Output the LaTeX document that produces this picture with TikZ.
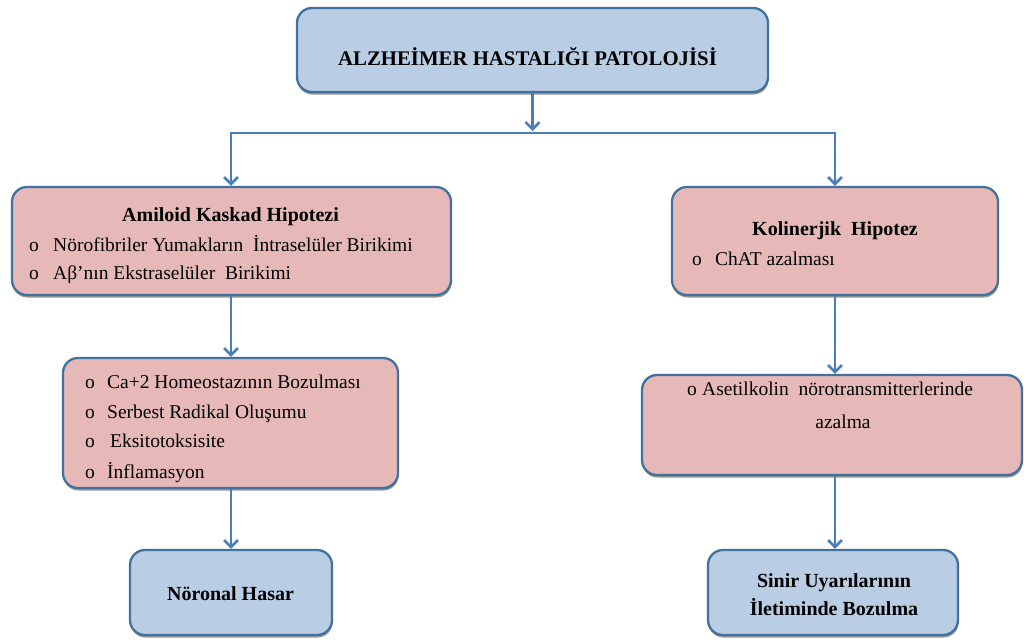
\documentclass[tikz,border=0pt]{standalone}
\usepackage{fontspec}
\setmainfont{Liberation Serif}
\usetikzlibrary{arrows.meta,shadows}
\definecolor{bluefill}{HTML}{B9CDE5}
\definecolor{pinkfill}{HTML}{E6B9B8}
\definecolor{edgec}{HTML}{41719C}
\definecolor{arrowc}{HTML}{4A7EBB}
\newcommand\bulmk[1]{\makebox[#1][l]{o}}
\begin{document}
\begin{tikzpicture}[x=1pt,y=-1pt,
  box/.style={draw=edgec, line width=2.3pt, rounded corners=15pt, inner sep=0pt,
    drop shadow={shadow xshift=0.5pt, shadow yshift=-2.5pt, fill=black!70, opacity=0.6}},
  bluebox/.style={box, fill=bluefill},
  pinkbox/.style={box, fill=pinkfill},
  txt/.style={font=\fontsize{19.5}{23}\selectfont, inner sep=0pt, text=black},
  btxt/.style={txt, font=\fontsize{20}{23}\selectfont\bfseries},
  arr/.style={draw=arrowc, line width=2.6pt, -{Straight Barb[length=7pt,width=14pt,line width=2.6pt]}},
  ln/.style={draw=arrowc, line width=2.6pt, line cap=rect}]
\useasboundingbox (0,0) rectangle (1024,641);

% boxes
\node[bluebox, minimum width=471pt, minimum height=84pt] (top) at (532.5,50) {};
\node[pinkbox, minimum width=439pt, minimum height=108pt] (amiloid) at (231.5,241) {};
\node[pinkbox, minimum width=326pt, minimum height=108pt] (kolin) at (835,241) {};
\node[pinkbox, minimum width=335pt, minimum height=130pt] (ca) at (230.5,423) {};
\node[pinkbox, minimum width=380pt, minimum height=100pt] (aset) at (832,425) {};
\node[bluebox, minimum width=202pt, minimum height=85pt] (noron) at (231,592.5) {};
\node[bluebox, minimum width=250pt, minimum height=85pt] (sinir) at (833,592.5) {};

% connectors
\coordinate (jm) at (532.5,131);
\coordinate (jl) at (231,133);
\coordinate (jr) at (835,133);
\draw[arr] (top.south) -- (jm);
\draw[ln] (jl) -- (jr);
\draw[arr] (jl) -- (jl |- amiloid.north);
\draw[arr] (jr) -- (jr |- kolin.north);
\draw[arr] (jl |- amiloid.south) -- (jl |- ca.north);
\draw[arr] (jl |- ca.south) -- (jl |- noron.north);
\draw[arr] (jr |- kolin.south) -- (jr |- aset.north);
\draw[arr] (jr |- aset.south) -- (jr |- sinir.north);

% texts
\node[btxt, anchor=base, font=\fontsize{20.8}{23}\selectfont\bfseries] (t0) at (527.5,65) {ALZHEİMER HASTALIĞI PATOLOJİSİ};

\node[btxt, anchor=base] (t1) at (230.5,221) {Amiloid Kaskad Hipotezi};
\node[txt, anchor=base west] (t2) at (29,251) {\bulmk{24pt}Nörofibriler Yumakların\ \ İntraselüler Birikimi};
\node[txt, anchor=base west] (t3) at (29,279) {\bulmk{24pt}Aβ’nın Ekstraselüler\ \ Birikimi};

\node[btxt, anchor=base] (k1) at (835,235) {Kolinerjik\ \ Hipotez};
\node[txt, anchor=base west] (k2) at (692,265) {\bulmk{23pt}ChAT azalması};

\node[txt, anchor=base west] (c1) at (85,388) {\bulmk{22pt}Ca+2 Homeostazının Bozulması};
\node[txt, anchor=base west] (c2) at (85,418) {\bulmk{22pt}Serbest Radikal Oluşumu};
\node[txt, anchor=base west] (c3) at (85,447) {\bulmk{25pt}Eksitotoksisite};
\node[txt, anchor=base west] (c4) at (85,478) {\bulmk{22pt}İnflamasyon};

\node[txt, anchor=base west] (a1) at (687,395) {\bulmk{15pt}Asetilkolin\ \ nörotransmitterlerinde};
\node[txt, anchor=base] (a2) at (843,428) {azalma};

\node[btxt, anchor=base] (n1) at (230.5,600) {Nöronal Hasar};
\node[btxt, anchor=base] (s1) at (834,587) {Sinir Uyarılarının};
\node[btxt, anchor=base] (s2) at (834,615) {İletiminde Bozulma};
\end{tikzpicture}
\end{document}
